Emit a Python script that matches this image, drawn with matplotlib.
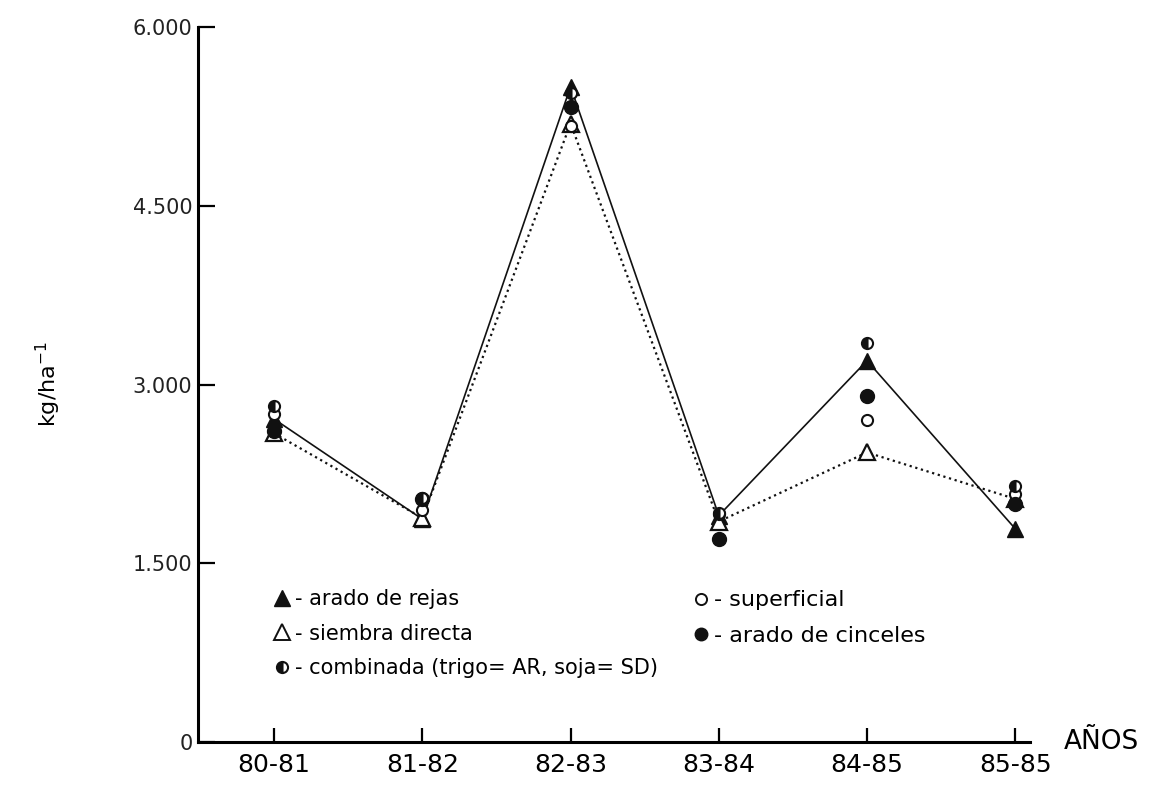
import matplotlib

matplotlib.use("Agg")
import matplotlib.pyplot as plt  # noqa: E402
from matplotlib.lines import Line2D  # noqa: E402

# yields (kg/ha)
years = ["80-81", "81-82", "82-83", "83-84", "84-85", "85-85"]
rejas = [2710, 1870, 5500, 1900, 3200, 1790]
siembra = [2590, 1880, 5190, 1850, 2430, 2040]
superficial = [2750, 1950, 5170, 1910, 2700, 2080]
cinceles = [2610, 2040, 5330, 1700, 2900, 2000]
combinada = [2820, 2050, 5450, 1920, 3350, 2150]
yticks = [0, 1500, 3000, 4500, 6000]
ytick_labels = ["0", "1.500", "3.000", "4.500", "6.000"]

plt.rcParams["font.family"] = ["DejaVu Sans"]
K = "#111111"

fig = plt.figure(figsize=(11.55, 7.86), dpi=100)
ax = fig.add_axes([0.1714, 0.056, 0.8918 - 0.1714, 0.9656 - 0.056])
x = list(range(len(years)))

ax.plot(x, rejas, linestyle="-", color=K, linewidth=1.2, marker="^", markersize=11, zorder=3)
ax.plot(x, siembra, linestyle=":", color=K, linewidth=1.6, marker="^", markersize=12,
        markerfacecolor="white", markeredgewidth=1.6, zorder=3)
ax.plot(x, superficial, linestyle="none", marker="o", markersize=8, markerfacecolor="white",
        markeredgecolor=K, markeredgewidth=1.5, zorder=4)
ax.plot(x, cinceles, linestyle="none", marker="o", markersize=10, color=K, zorder=4)
ax.plot(x, combinada, linestyle="none", marker="o", markersize=8, color=K, fillstyle="left",
        markerfacecoloralt="white", markeredgewidth=1.5, zorder=4)

ax.set_xlim(-0.514, 5.10)
ax.set_ylim(0, 6000)
ax.set_xticks(x)
ax.set_xticklabels(years, fontsize=18)
ax.set_yticks(yticks)
ax.set_yticklabels(ytick_labels, fontsize=15, color="#222222")
ax.tick_params(axis="x", direction="in", length=10, width=1.6, pad=8)
ax.tick_params(axis="y", direction="in", length=12, width=1.6, pad=4)
ax.spines[["top", "right"]].set_visible(False)
ax.spines[["left", "bottom"]].set_linewidth(2.2)
ax.set_ylabel("kg/ha$^{-1}$", fontsize=16, labelpad=50)
ax.text(1.04, 0.0, "AÑOS", transform=ax.transAxes, fontsize=19, va="center", ha="left")

h_rejas = Line2D([], [], linestyle="none", marker="^", markersize=11, color=K)
h_siembra = Line2D([], [], linestyle="none", marker="^", markersize=11, markerfacecolor="white",
                   markeredgecolor=K, markeredgewidth=1.4)
h_comb = Line2D([], [], linestyle="none", marker="o", markersize=8, color=K, fillstyle="left",
                markerfacecoloralt="white", markeredgewidth=1.5)
h_sup = Line2D([], [], linestyle="none", marker="o", markersize=8, markerfacecolor="white",
               markeredgecolor=K, markeredgewidth=1.4)
h_cin = Line2D([], [], linestyle="none", marker="o", markersize=9, color=K)

leg_kw = dict(loc="upper left", frameon=False, handlelength=0.6,
              handletextpad=0.3, labelspacing=0.7)
left = ax.legend([h_rejas, h_siembra, h_comb],
                 ["- arado de rejas", "- siembra directa", "- combinada (trigo= AR, soja= SD)"],
                 bbox_to_anchor=(0.071, 0.240), fontsize=15, **leg_kw)
ax.add_artist(left)
ax.legend([h_sup, h_cin], ["- superficial", "- arado de cinceles"],
          bbox_to_anchor=(0.572, 0.240), fontsize=16, **leg_kw)

fig.savefig("out.png", dpi=100)
